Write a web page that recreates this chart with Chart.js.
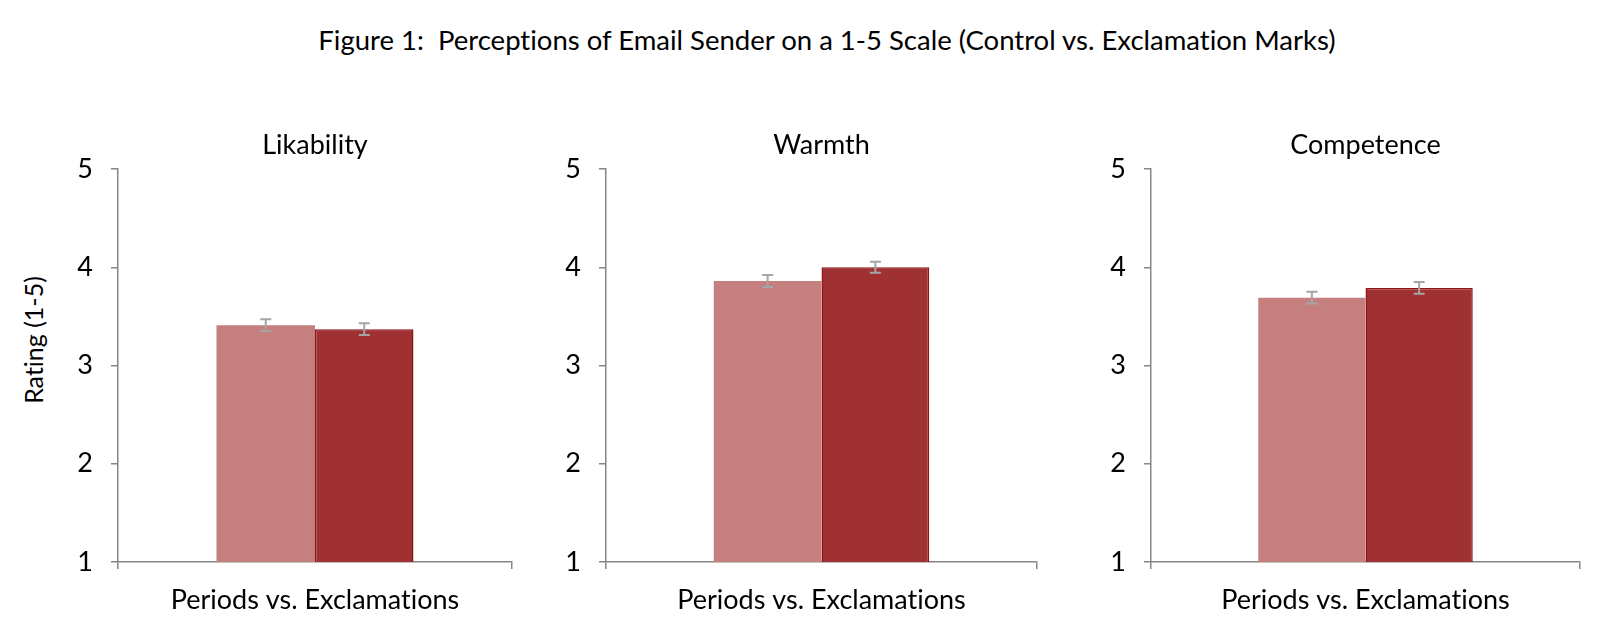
<!DOCTYPE html>
<html>
<head>
<meta charset="utf-8">
<script src="https://cdn.jsdelivr.net/npm/chart.js@4/dist/chart.umd.min.js"></script>
<style>
  body { margin: 0; background: #fff; width: 1600px; height: 630px; overflow: hidden; position: relative; font-family: Lato, "Open Sans", sans-serif; font-variant-ligatures: none; }
  #title { position: absolute; top: 24px; left: 27px; width: 1600px; text-align: center; font-size: 27.5px; line-height: 32px; color: #000; }
  #ylab { position: absolute; left: 33px; top: 340px; transform: translate(-50%, -50%) rotate(-90deg); font-size: 25px; color: #000; white-space: nowrap; }
  .panel { position: absolute; top: 0; height: 630px; }
  #p1 { left: 0; width: 530px; }
  #p2 { left: 530px; width: 520px; }
  #p3 { left: 1060px; width: 540px; }
</style>
</head>
<body>
<div id="title">Figure 1:&nbsp; Perceptions of Email Sender on a 1-5 Scale (Control vs. Exclamation Marks)</div>
<div id="ylab">Rating (1-5)</div>
<div class="panel" id="p1"><canvas id="c1"></canvas></div>
<div class="panel" id="p2"><canvas id="c2"></canvas></div>
<div class="panel" id="p3"><canvas id="c3"></canvas></div>
<script>
// data
const panels = ['Likability', 'Warmth', 'Competence'];
const category = ['Periods vs. Exclamations'];
const periods = [3.41, 3.86, 3.69];
const exclamations = [3.37, 4.00, 3.79];
const periodsErr = [0.06, 0.06, 0.06];
const exclamationsErr = [0.06, 0.056, 0.06];
const yTicks = [1, 2, 3, 4, 5];

const axisGray = '#868686';
const fontFam = 'Lato, "Open Sans", sans-serif';

// no "ti" ligatures on canvas text (the original has none)
const noLigatures = {
  id: 'noLigatures',
  beforeDraw(chart) {
    chart.ctx.textRendering = 'optimizeSpeed';
  }
};

// simple error bar drawing, uses the bar elements + y scale
const errorBars = {
  id: 'errorBars',
  afterDatasetsDraw(chart) {
    const ctx = chart.ctx;
    const y = chart.scales.y;
    chart.data.datasets.forEach((ds, di) => {
      const meta = chart.getDatasetMeta(di);
      meta.data.forEach((bar, i) => {
        const v = ds.data[i], e = ds.err[i];
        const top = y.getPixelForValue(v + e);
        const bot = y.getPixelForValue(v - e);
        ctx.save();
        ctx.strokeStyle = '#a5a5a5';
        ctx.lineWidth = 2;
        ctx.beginPath();
        ctx.moveTo(bar.x, top); ctx.lineTo(bar.x, bot);
        ctx.moveTo(bar.x - 5.5, top); ctx.lineTo(bar.x + 5.5, top);
        ctx.moveTo(bar.x - 5.5, bot); ctx.lineTo(bar.x + 5.5, bot);
        ctx.stroke();
        ctx.restore();
      });
    });
  }
};

function makePanel(id, idx, yWidth, padRight) {
  new Chart(document.getElementById(id), {
    type: 'bar',
    data: {
      labels: category,
      datasets: [
        { label: 'Periods', data: [periods[idx]], err: [periodsErr[idx]],
          backgroundColor: '#c47f7e', borderWidth: 0 },
        { label: 'Exclamations', data: [exclamations[idx]], err: [exclamationsErr[idx]],
          backgroundColor: '#a03133', borderColor: '#8e1416', borderWidth: 1.5, borderSkipped: 'bottom' }
      ]
    },
    options: {
      responsive: true,
      maintainAspectRatio: false,
      animation: false,
      events: [],
      layout: { padding: { top: 128.6, right: padRight, bottom: 0, left: 0 } },
      datasets: { bar: { categoryPercentage: 0.5, barPercentage: 1.0 } },
      plugins: {
        legend: { display: false },
        tooltip: { enabled: false },
        title: {
          display: true, text: panels[idx], color: '#000', fullSize: false,
          font: { family: fontFam, size: 27, weight: 'normal', lineHeight: 1.2 },
          padding: { top: 0, bottom: 8 }
        }
      },
      scales: {
        x: {
          grid: { display: true, offset: true, drawOnChartArea: false, tickLength: 7, color: axisGray, lineWidth: 1.5 },
          border: { display: true, color: axisGray, width: 1.5 },
          ticks: { color: '#000', font: { family: fontFam, size: 27 }, padding: 15 },
          afterFit(s) { s.height = 68; }
        },
        y: {
          min: 1, max: 5,
          afterBuildTicks(s) { s.ticks = yTicks.map(v => ({ value: v })); },
          grid: { display: true, drawOnChartArea: false, tickLength: 7, color: axisGray, lineWidth: 1.5 },
          border: { display: true, color: axisGray, width: 1.5 },
          ticks: { color: '#000', font: { family: fontFam, size: 27 }, padding: 18 },
          afterFit(s) { s.width = yWidth; }
        }
      }
    },
    plugins: [noLigatures, errorBars]
  });
}

makePanel('c1', 0, 118, 18);
makePanel('c2', 1, 76, 13);
makePanel('c3', 2, 91, 20);
</script>
</body>
</html>
